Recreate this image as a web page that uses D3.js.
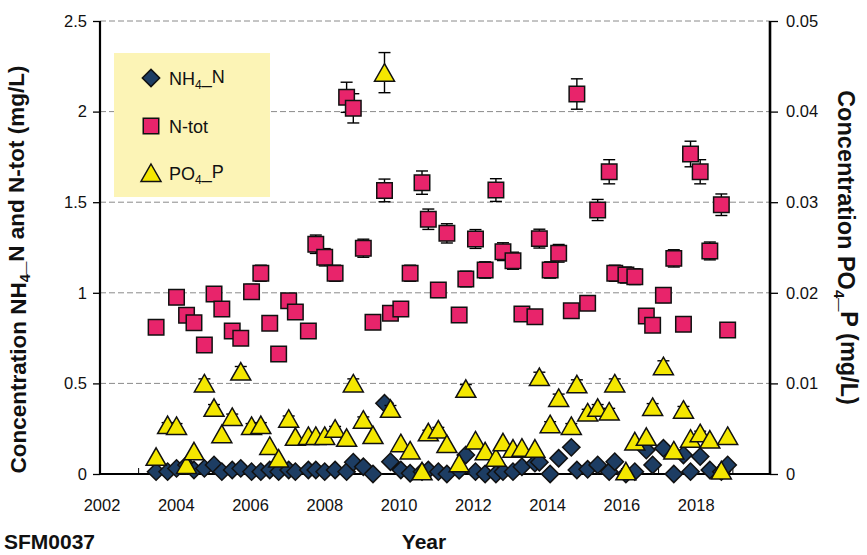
<!DOCTYPE html>
<html>
<head>
<meta charset="utf-8">
<script src="https://cdn.jsdelivr.net/npm/d3@7"></script>
<style>
  body { margin: 0; background: #fff; }
  svg { font-family: "Liberation Sans", Arial, sans-serif; }
</style>
</head>
<body>
<svg id="chart" width="867" height="555"></svg>
<script>
// sample dates (decimal years) shared by all three series
const years = [
  2003.47, 2003.78, 2004.02, 2004.29, 2004.49, 2004.77, 2005.03, 2005.24, 2005.52, 2005.75,
  2006.04, 2006.29, 2006.53, 2006.77, 2007.04, 2007.22, 2007.57, 2007.77, 2008.01, 2008.29,
  2008.60, 2008.78, 2009.05, 2009.31, 2009.62, 2009.78, 2010.06, 2010.31, 2010.63, 2010.80,
  2011.07, 2011.30, 2011.63, 2011.81, 2012.07, 2012.33, 2012.62, 2012.81, 2013.08, 2013.32,
  2013.67, 2013.79, 2014.08, 2014.31, 2014.65, 2014.80, 2015.09, 2015.36, 2015.67, 2015.82,
  2016.12, 2016.36, 2016.67, 2016.84, 2017.13, 2017.41, 2017.67, 2017.86, 2018.12, 2018.38,
  2018.69, 2018.86
];
const nh4 = [
  0.013, 0.013, 0.031, 0.05, 0.022, 0.031, 0.05, 0.013, 0.022, 0.031,
  0.013, 0.013, 0.022, 0.013, 0.022, 0.013, 0.022, 0.022, 0.013, 0.022,
  0.013, 0.065, 0.04, 0.0, 0.39, 0.068, 0.022, 0.004, 0.013, 0.022,
  0.013, 0.0, 0.02, 0.105, 0.013, 0.0, 0.0, 0.013, 0.013, 0.04,
  0.06, 0.065, 0.0, 0.087, 0.147, 0.022, 0.026, 0.05, 0.013, 0.068,
  0.0, 0.013, 0.132, 0.05, 0.142, 0.0, 0.105, 0.013, 0.096, 0.022,
  0.013, 0.05
];
const ntot = [
  0.81, null, 0.975, 0.876, 0.835, 0.712, 0.993, 0.911, 0.789, 0.749,
  1.006, 1.108, 0.832, 0.662, 0.956, 0.894, 0.789, 1.268, 1.196, 1.108,
  2.079, 2.018, 1.246, 0.837, 1.565, 0.887, 0.911, 1.108, 1.608, 1.406,
  1.015, 1.328, 0.877, 1.076, 1.297, 1.126, 1.567, 1.227, 1.177, 0.883,
  0.868, 1.299, 1.126, 1.218, 0.901, 2.097, 0.942, 1.457, 1.668, 1.108,
  1.098, 1.089, 0.872, 0.821, 0.986, 1.19, 0.826, 1.766, 1.668, 1.231,
  1.486, 0.795
];
const po4 = [
  0.0019, 0.0054, 0.0053, 0.0010, 0.0025, 0.0100, 0.0073, 0.0044, 0.0063, 0.0113,
  0.0053, 0.0054, 0.0031, 0.0017, 0.0061, 0.0041, 0.0042, 0.0042, 0.0042, 0.0050,
  0.0040, 0.0100, 0.0060, 0.0043, 0.0443, 0.0072, 0.0034, 0.0026, 0.0003, 0.0046,
  0.0049, 0.0033, 0.0012, 0.0094, 0.0037, 0.0025, 0.0018, 0.0035, 0.0028, 0.0029,
  0.0028, 0.0107, 0.0055, 0.0084, 0.0053, 0.0099, 0.0068, 0.0073, 0.0069, 0.0100,
  0.0003, 0.0036, 0.0041, 0.0074, 0.0119, 0.0026, 0.0071, 0.0039, 0.0045, 0.0038,
  0.0004, 0.0042
];
const xTicks = [2002, 2004, 2006, 2008, 2010, 2012, 2014, 2016, 2018];
const yTicks = [0, 0.5, 1, 1.5, 2, 2.5];
const y2Ticks = [0, 0.01, 0.02, 0.03, 0.04, 0.05];
const nErr = 0.04;   // relative error bars, nitrogen
const pErr = 0.05;   // relative error bars, phosphate

const colors = { nh4: "#1d3d63", ntot: "#e8246b", po4: "#f4e700", legend: "#fcf4b6" };

const svg = d3.select("#chart");
const plot = { left: 100, right: 770, top: 21, bottom: 474 };

const x = d3.scaleLinear().domain([2002, 2020]).range([plot.left + 1.5, plot.right]);
const y = d3.scaleLinear().domain([0, 2.5]).range([plot.bottom, plot.top]);
const y2 = d3.scaleLinear().domain([0, 0.05]).range([plot.bottom, plot.top]);

// gridlines
svg.append("g")
  .selectAll("line")
    .data(yTicks.filter(d => d > 0))
  .enter().append("line")
    .attr("x1", plot.left).attr("x2", plot.right)
    .attr("y1", d => y(d)).attr("y2", d => y(d))
    .attr("stroke", "#8a8a8a")
    .attr("stroke-width", 1)
    .attr("stroke-dasharray", "6,3");

// axes
const styleAxis = (g) => {
  g.select(".domain").remove();
  g.selectAll("text")
    .style("font-size", "16.5px")
    .style("font-family", "Liberation Sans, Arial, sans-serif")
    .attr("fill", "#111");
  g.selectAll("line").attr("stroke", "#000").attr("stroke-width", 1.3);
};

svg.append("g")
  .attr("transform", `translate(${plot.left},0)`)
  .call(d3.axisLeft(y).tickValues(yTicks).tickSize(7).tickPadding(6).tickFormat(d3.format("")))
  .call(styleAxis);

svg.append("g")
  .attr("transform", `translate(${plot.right},0)`)
  .call(d3.axisRight(y2).tickValues(y2Ticks).tickSize(8).tickPadding(8).tickFormat(d => d === 0 ? "0" : d3.format(".2f")(d)))
  .call(styleAxis);

svg.append("g")
  .attr("transform", `translate(0,${plot.bottom})`)
  .call(d3.axisBottom(x).tickValues(xTicks).tickSize(0).tickPadding(25).tickFormat(d3.format("d")))
  .call(styleAxis);

// small inner year ticks on the x axis
svg.append("g")
  .selectAll("line")
    .data(d3.range(2003, 2020))
  .enter().append("line")
    .attr("x1", d => x(d)).attr("x2", d => x(d))
    .attr("y1", plot.bottom).attr("y2", plot.bottom - 6)
    .attr("stroke", "#000").attr("stroke-width", 1);

svg.append("line")
  .attr("x1", plot.left).attr("x2", plot.left)
  .attr("y1", plot.top).attr("y2", plot.bottom + 1)
  .attr("stroke", "#000").attr("stroke-width", 2.2);
svg.append("line")
  .attr("x1", plot.right).attr("x2", plot.right)
  .attr("y1", plot.top).attr("y2", plot.bottom + 1)
  .attr("stroke", "#000").attr("stroke-width", 2.6);
svg.append("line")
  .attr("x1", plot.left - 1).attr("x2", plot.right + 1)
  .attr("y1", plot.bottom).attr("y2", plot.bottom)
  .attr("stroke", "#000").attr("stroke-width", 2.2);

// marker shapes
const diamondPath = d3.symbol().type(d3.symbolSquare).size(150)();
const squarePath = d3.symbol().type(d3.symbolSquare).size(240)();
const trianglePath = "M0,-9L10,8.5L-10,8.5Z";

function series(values, scale, err, path, fill, rotate) {
  const pts = years.map((t, i) => ({ t, v: values[i] })).filter(d => d.v !== null);
  const g = svg.append("g");

  const bars = g.selectAll("g.err")
      .data(pts.filter(d => scale(d.v * (1 - err)) - scale(d.v * (1 + err)) > 4))
    .enter().append("g")
      .attr("stroke", "#000").attr("stroke-width", 1.4);
  bars.append("line")
    .attr("x1", d => x(d.t)).attr("x2", d => x(d.t))
    .attr("y1", d => scale(d.v * (1 - err))).attr("y2", d => scale(d.v * (1 + err)));
  [1 - err, 1 + err].forEach(k => {
    bars.append("line")
      .attr("x1", d => x(d.t) - 6).attr("x2", d => x(d.t) + 6)
      .attr("y1", d => scale(d.v * k)).attr("y2", d => scale(d.v * k));
  });

  g.selectAll("path.mark")
      .data(pts)
    .enter().append("path")
      .attr("class", "mark")
      .attr("d", path)
      .attr("transform", d => `translate(${x(d.t)},${scale(d.v)})` + (rotate ? " rotate(45)" : ""))
      .attr("fill", fill)
      .attr("stroke", "#111")
      .attr("stroke-width", 1.5);
}

series(nh4, y, nErr, diamondPath, colors.nh4, true);
series(ntot, y, nErr, squarePath, colors.ntot, false);
series(po4, y2, pErr, trianglePath, colors.po4, false);

// legend
const legend = svg.append("g");
legend.append("rect")
  .attr("x", 114).attr("y", 53).attr("width", 156).attr("height", 144)
  .attr("fill", colors.legend);

const legendItems = [
  { path: diamondPath, fill: colors.nh4, rotate: true, cy: 78, label: ["NH", "4", "_N"] },
  { path: squarePath, fill: colors.ntot, rotate: false, cy: 126, label: ["N-tot"] },
  { path: trianglePath, fill: colors.po4, rotate: false, cy: 173, label: ["PO", "4", "_P"] }
];

function subText(sel, parts, subSize) {
  parts.forEach((p, i) => {
    const t = sel.append("tspan").text(p);
    if (i === 1) t.attr("font-size", subSize).attr("dy", "0.3em");
    if (i === 2) t.attr("dy", "-0.3em");
  });
}

legendItems.forEach(item => {
  legend.append("path")
    .attr("d", item.path)
    .attr("transform", `translate(151,${item.cy})` + (item.rotate ? " rotate(45)" : ""))
    .attr("fill", item.fill)
    .attr("stroke", "#111")
    .attr("stroke-width", 1.5);
  const t = legend.append("text")
    .attr("x", 169).attr("y", item.cy + 7)
    .attr("font-size", 18).attr("fill", "#111");
  subText(t, item.label, 12);
});

// axis titles
const leftTitle = svg.append("text")
  .attr("transform", `translate(26,${(plot.top + plot.bottom) / 2 + 22}) rotate(-90)`)
  .attr("text-anchor", "middle")
  .attr("font-size", 22.5).attr("font-weight", "bold").attr("fill", "#111");
subText(leftTitle, ["Concentration NH", "4", "_N and N-tot (mg/L)"], 14.5);

const rightTitle = svg.append("text")
  .attr("transform", `translate(838,${(plot.top + plot.bottom) / 2}) rotate(90)`)
  .attr("text-anchor", "middle")
  .attr("font-size", 23.5).attr("font-weight", "bold").attr("fill", "#111");
subText(rightTitle, ["Concentration PO", "4", "_P (mg/L)"], 15);

svg.append("text")
  .attr("x", 424).attr("y", 549)
  .attr("text-anchor", "middle")
  .attr("font-size", 21).attr("font-weight", "bold").attr("fill", "#111")
  .text("Year");

svg.append("text")
  .attr("x", 4).attr("y", 549)
  .attr("font-size", 21).attr("font-weight", "bold").attr("fill", "#111")
  .text("SFM0037");
</script>
</body>
</html>
